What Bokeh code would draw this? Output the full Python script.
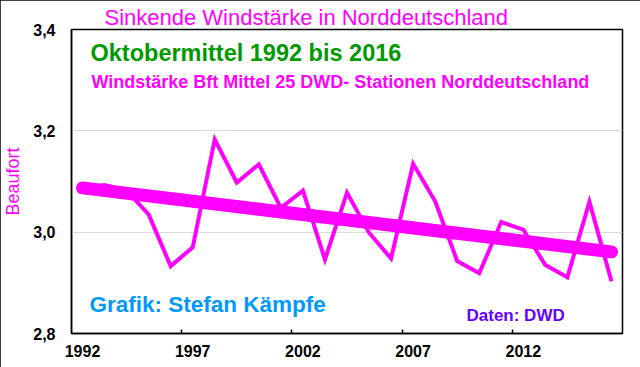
import math
from bokeh.plotting import figure
from bokeh.models import Range1d, FixedTicker, Label, Title
from bokeh.embed import file_html
from bokeh.resources import INLINE
import numpy as np

# ---- data ----
years = list(range(1992, 2017))
wind_bft = [3.085, 3.093, 3.082, 3.035, 2.933, 2.970, 3.183, 3.098, 3.134, 3.048,
            3.082, 2.946, 3.078, 2.999, 2.948, 3.135, 3.061, 2.943, 2.919, 3.020,
            3.005, 2.935, 2.911, 3.060, 2.903]
x_tick_years = [1992, 1997, 2002, 2007, 2012]
x_minor_ticks = [1996.5, 2001.5, 2006.5, 2011.5]
y_ticks = [2.8, 3.0, 3.2, 3.4]
y_tick_labels = ["2,8", "3,0", "3,2", "3,4"]

title_text = "Sinkende Windstärke in Norddeutschland"
sub1_text = "Oktobermittel 1992 bis 2016"
sub2_text = "Windstärke Bft Mittel 25 DWD- Stationen Norddeutschland"
credit_text = "Grafik: Stefan Kämpfe"
source_text = "Daten: DWD"
ylabel_text = "Beaufort"

# linear trend (least squares) of the series
coef = np.polyfit(years, wind_bft, 1)
trend_x = [years[0], years[-1]]
trend_y = [float(np.polyval(coef, years[0])), float(np.polyval(coef, years[-1]))]

MAG = "#FF00FF"
FONT = "Liberation Sans"

p = figure(width=640, height=367, output_backend="svg", toolbar_location=None,
           x_range=Range1d(1991.5, 2016.5), y_range=Range1d(2.8, 3.4),
           min_border_left=69, min_border_right=18, min_border_top=29,
           min_border_bottom=34)
p.background_fill_color = "white"
p.border_fill_color = "white"
p.outline_line_color = "black"
p.outline_line_width = 1.5
p.styles = {"outline": "2px solid black", "outline-offset": "-2px"}

# title
p.title = Title(text=title_text, text_font=FONT, text_font_size="22px",
                text_font_style="normal", text_color=MAG, align="left",
                offset=33, standoff=0)

# grid
p.xgrid.visible = False
p.ygrid.grid_line_color = "#d9d9d9"
p.ygrid.grid_line_width = 1

# x axis
xa = p.xaxis[0]
xa.ticker = FixedTicker(ticks=x_tick_years, minor_ticks=x_minor_ticks)
xa.major_tick_in = 0
xa.major_tick_out = 0
xa.minor_tick_in = 4
xa.minor_tick_out = 0
xa.minor_tick_line_color = "black"
xa.minor_tick_line_width = 1.5
xa.axis_line_color = "black"
xa.axis_line_width = 1.5
xa.major_label_text_font = FONT
xa.major_label_text_font_style = "bold"
xa.major_label_text_font_size = "16px"
xa.major_label_text_color = "black"
xa.major_label_standoff = 11

# y axis
ya = p.yaxis[0]
ya.ticker = FixedTicker(ticks=y_ticks)
ya.major_label_overrides = {t: s for t, s in zip(y_ticks, y_tick_labels)}
ya.major_tick_in = 0
ya.major_tick_out = 0
ya.minor_tick_line_color = None
ya.axis_line_color = "black"
ya.axis_line_width = 1.5
ya.major_label_text_font = FONT
ya.major_label_text_font_style = "bold"
ya.major_label_text_font_size = "16px"
ya.major_label_text_color = "black"
ya.major_label_standoff = 16
ya.axis_label = ylabel_text
ya.axis_label_text_font = FONT
ya.axis_label_text_font_size = "18px"
ya.axis_label_text_font_style = "normal"
ya.axis_label_text_color = MAG
ya.axis_label_standoff = 7

# data
p.line(years, wind_bft, line_color=MAG, line_width=4, line_join="miter")
p.line(trend_x, trend_y, line_color=MAG, line_width=13, line_cap="round")

# texts inside the plot frame (screen units relative to the frame)
def lab(text, x, y, size, color, style="bold"):
    p.add_layout(Label(x=x, y=y, x_units="screen", y_units="screen", text=text,
                       text_font=FONT, text_font_size=size, text_font_style=style,
                       text_color=color, text_align="left",
                       text_baseline="alphabetic"))

lab(sub1_text, 19, 281, "23.5px", "#009900")
lab(sub2_text, 20, 252, "18px", MAG)
lab(credit_text, 18, 29, "22.5px", "#0099FF")
lab(source_text, 395, 18, "17px", "#6600FF")

open("out.html", "w").write(file_html(p, INLINE))
